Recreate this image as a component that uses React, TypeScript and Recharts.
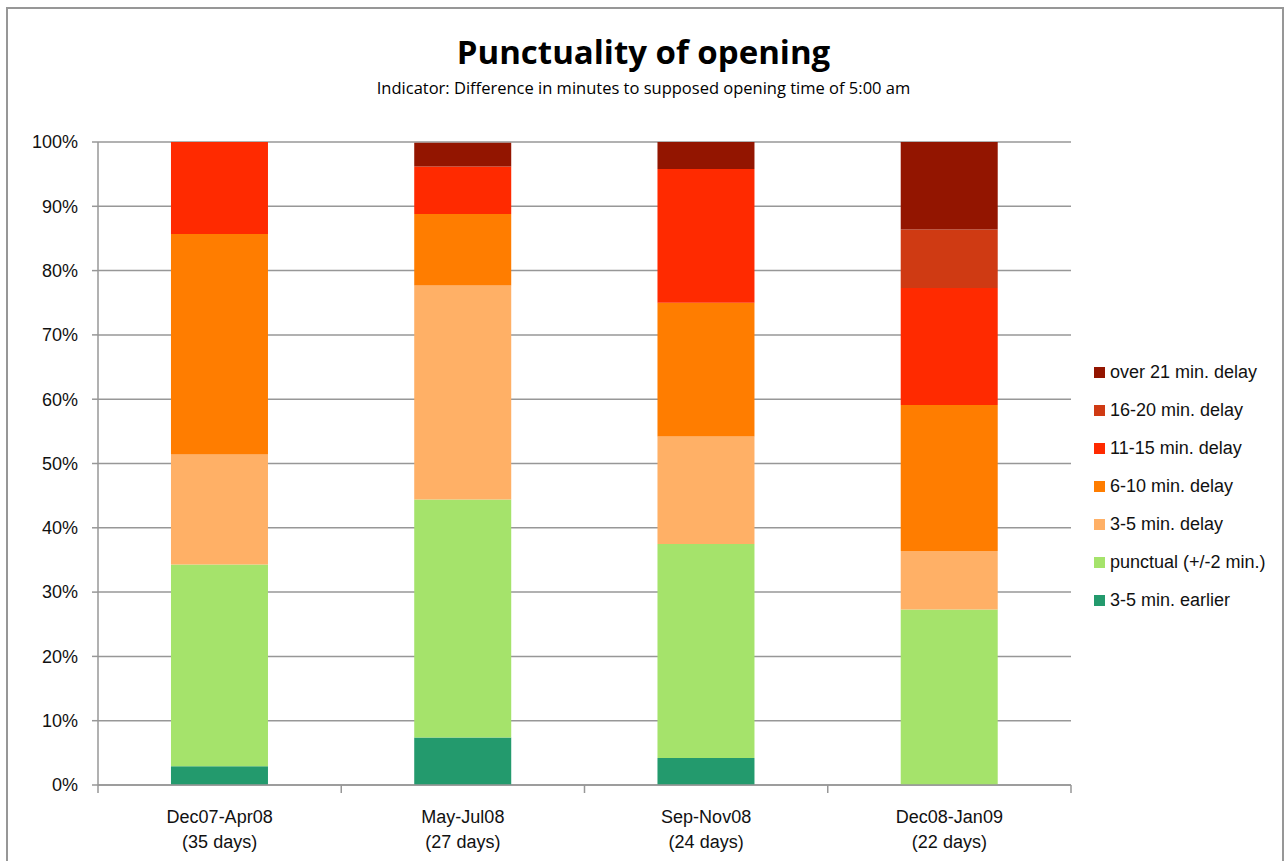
import { BarChart, Bar, XAxis, YAxis, CartesianGrid, Legend } from "recharts";

// periods on the x axis and how many days each one covers
const periods = ["Dec07-Apr08", "May-Jul08", "Sep-Nov08", "Dec08-Jan09"];
const dayCounts = [35, 27, 24, 22];

// share of days per delay class, in percent
const earlier = [2.9, 7.4, 4.2, 0];
const punctual = [31.4, 37.0, 33.3, 27.3];
const delay3to5 = [17.1, 33.3, 16.7, 9.1];
const delay6to10 = [34.3, 11.1, 20.8, 22.7];
const delay11to15 = [14.3, 7.4, 20.8, 18.2];
const delay16to20 = [0, 0, 0, 9.1];
const delayOver21 = [0, 3.7, 4.2, 13.6];

const yTicks = [0, 10, 20, 30, 40, 50, 60, 70, 80, 90, 100];

const series = [
  { key: "earlier", name: "3-5 min. earlier", color: "#239a6d", values: earlier },
  { key: "punctual", name: "punctual (+/-2 min.)", color: "#a5e36b", values: punctual },
  { key: "d3", name: "3-5 min. delay", color: "#ffb066", values: delay3to5 },
  { key: "d6", name: "6-10 min. delay", color: "#ff7d00", values: delay6to10 },
  { key: "d11", name: "11-15 min. delay", color: "#ff2a00", values: delay11to15 },
  { key: "d16", name: "16-20 min. delay", color: "#cf3a13", values: delay16to20 },
  { key: "d21", name: "over 21 min. delay", color: "#931500", values: delayOver21 },
];

const data = periods.map((p, i) => {
  const row: Record<string, string | number> = { period: p, days: dayCounts[i] };
  series.forEach((s) => {
    row[s.key] = s.values[i];
  });
  return row;
});

const FONT = "'Liberation Sans', Arial, sans-serif";
const GRID = "#979797";

// category label on two lines, plus tick marks on the band edges
function PeriodTick(props: any) {
  const { x, y, payload, index, visibleTicksCount } = props;
  const half = payload.offset ?? 0;
  return (
    <g>
      <line x1={x - half} x2={x - half} y1={y} y2={y + 8} stroke={GRID} strokeWidth={1.5} />
      {index === visibleTicksCount - 1 && (
        <line x1={x + half} x2={x + half} y1={y} y2={y + 8} stroke={GRID} strokeWidth={1.5} />
      )}
      <text x={x} y={y} textAnchor="middle" fontFamily={FONT} fontSize={18} fill="#111">
        <tspan x={x} dy={38}>{payload.value}</tspan>
        <tspan x={x} dy={25}>({dayCounts[index]} days)</tspan>
      </text>
    </g>
  );
}

function LegendList() {
  const items = [...series].reverse();
  return (
    <div style={{ fontFamily: FONT, fontSize: 18, color: "#111", textAlign: "left" }}>
      {items.map((s) => (
        <div key={s.key} style={{ display: "flex", alignItems: "center", height: 38 }}>
          <span style={{ width: 11, height: 11, background: s.color, marginRight: 5 }} />
          <span>{s.name}</span>
        </div>
      ))}
    </div>
  );
}

export default function App() {
  return (
    <div style={{ position: "absolute", left: 0, top: 0, width: 1287, height: 861, overflow: "hidden", background: "#fff" }}>
      <div
        style={{
          position: "absolute",
          left: 6,
          top: 7,
          width: 1274,
          height: 900,
          border: `2px solid ${GRID}`,
        }}
      />
      <div
        style={{
          position: "absolute",
          left: 0,
          width: 1287,
          top: 30,
          textAlign: "center",
          fontFamily: "'Open Sans', sans-serif",
          fontWeight: 700,
          fontSize: 33,
          lineHeight: "44px",
          color: "#000",
        }}
      >
        Punctuality of opening
      </div>
      <div
        style={{
          position: "absolute",
          left: 0,
          width: 1287,
          top: 78,
          textAlign: "center",
          fontFamily: "'Open Sans', sans-serif",
          fontSize: 16.5,
          lineHeight: "20px",
          color: "#000",
        }}
      >
        Indicator: Difference in minutes to supposed opening time of 5:00 am
      </div>
      <BarChart
        width={1287}
        height={861}
        data={data}
        margin={{ top: 142, right: 216, left: 0, bottom: 6 }}
        barCategoryGap="30%"
        style={{ position: "absolute", left: 0, top: 0 }}
      >
        <CartesianGrid horizontal vertical={false} stroke={GRID} strokeWidth={1.5} />
        <XAxis
          dataKey="period"
          height={70}
          tickLine={false}
          axisLine={{ stroke: GRID, strokeWidth: 1.5 }}
          tickSize={0}
          tickMargin={0}
          interval={0}
          tick={<PeriodTick />}
        />
        <YAxis
          width={98}
          domain={[0, 100]}
          ticks={yTicks}
          allowDataOverflow
          tickFormatter={(v: number) => `${v}%`}
          tickSize={6}
          tickMargin={14}
          tickLine={{ stroke: GRID, strokeWidth: 1.5 }}
          axisLine={{ stroke: GRID, strokeWidth: 1.5 }}
          tick={{ fontFamily: FONT, fontSize: 18, fill: "#111" }}
        />
        {series.map((s) => (
          <Bar key={s.key} dataKey={s.key} name={s.name} stackId="a" fill={s.color} isAnimationActive={false} />
        ))}
        <Legend
          layout="vertical"
          align="center"
          verticalAlign="middle"
          content={<LegendList />}
          wrapperStyle={{ left: 1094, top: 353, width: 190 }}
        />
      </BarChart>
    </div>
  );
}
